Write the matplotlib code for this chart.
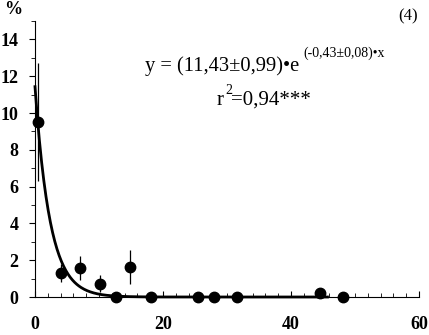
import numpy as np
import matplotlib
matplotlib.use('Agg')
import matplotlib.pyplot as plt
from matplotlib.ticker import MultipleLocator

# observed values
x_obs = [0.5, 4.0, 7.1, 10.1, 12.6, 14.8, 18.1, 25.4, 28.0, 31.6, 44.5, 48.1]
y_obs = [9.5, 1.32, 1.6, 0.72, 0.0, 1.63, 0.0, 0.0, 0.0, 0.0, 0.2, 0.0]
y_err = [3.2, 0.48, 0.65, 0.45, 0.0, 0.95, 0.0, 0.0, 0.0, 0.0, 0.0, 0.0]

# fitted model y = a*exp(b*x), as printed on the chart
a_fit = 11.43
b_fit = -0.43
x_fit_end = 45.7

W, H = 429, 335
plt.rcParams['font.family'] = ['Liberation Serif', 'DejaVu Serif']

fig = plt.figure(figsize=(W / 100, H / 100), dpi=100)
ax = fig.add_axes([35 / W, 1 - 297 / H, (419 - 35) / W, (297 - 21) / H])

xf = np.linspace(0, x_fit_end, 400)
ax.plot(xf, a_fit * np.exp(b_fit * xf), color='black', lw=2, zorder=2, clip_on=False)
ax.errorbar(x_obs, y_obs, yerr=y_err, fmt='o', color='black', ms=7.5,
            elinewidth=0.9, capsize=0, zorder=3, clip_on=False)

ax.set_xlim(0, 60)
ax.set_ylim(0, 15)
ax.spines['top'].set_visible(False)
ax.spines['right'].set_visible(False)
ax.spines['left'].set_linewidth(0.8)
ax.spines['bottom'].set_linewidth(0.8)

ax.xaxis.set_major_locator(MultipleLocator(20))
ax.xaxis.set_minor_locator(MultipleLocator(2))
ax.yaxis.set_major_locator(MultipleLocator(2))
ax.yaxis.set_minor_locator(MultipleLocator(1))
ax.tick_params(axis='x', which='major', direction='in', length=4, width=0.8, pad=14)
ax.tick_params(axis='x', which='minor', direction='in', length=3, width=0.6)
ax.tick_params(axis='y', which='major', direction='out', length=4, width=0.8, pad=8)
ax.tick_params(axis='y', which='minor', direction='out', length=3, width=0.6)
for lab in ax.get_xticklabels() + ax.get_yticklabels():
    lab.set_fontsize(13)
    lab.set_fontweight('bold')


def fx(px):
    return px / W


def fy(py):
    return 1 - py / H


fig.text(fx(13), fy(9), '%', fontsize=13, fontweight='bold', ha='center', va='center')
fig.text(fx(418), fy(20), '(4)', fontsize=12, ha='right', va='baseline')
fig.text(fx(145), fy(71), 'y = (11,43±0,99)•e', fontsize=14.8, ha='left', va='baseline')
fig.text(fx(303), fy(57), '(-0,43±0,08)•x', fontsize=10, ha='left', va='baseline')
fig.text(fx(217), fy(105), 'r', fontsize=15, ha='left', va='baseline')
fig.text(fx(225), fy(94), '2', fontsize=10, ha='left', va='baseline')
fig.text(fx(231), fy(105), '=0,94***', fontsize=15, ha='left', va='baseline')

fig.savefig('out.png', dpi=100)
plt.close(fig)
